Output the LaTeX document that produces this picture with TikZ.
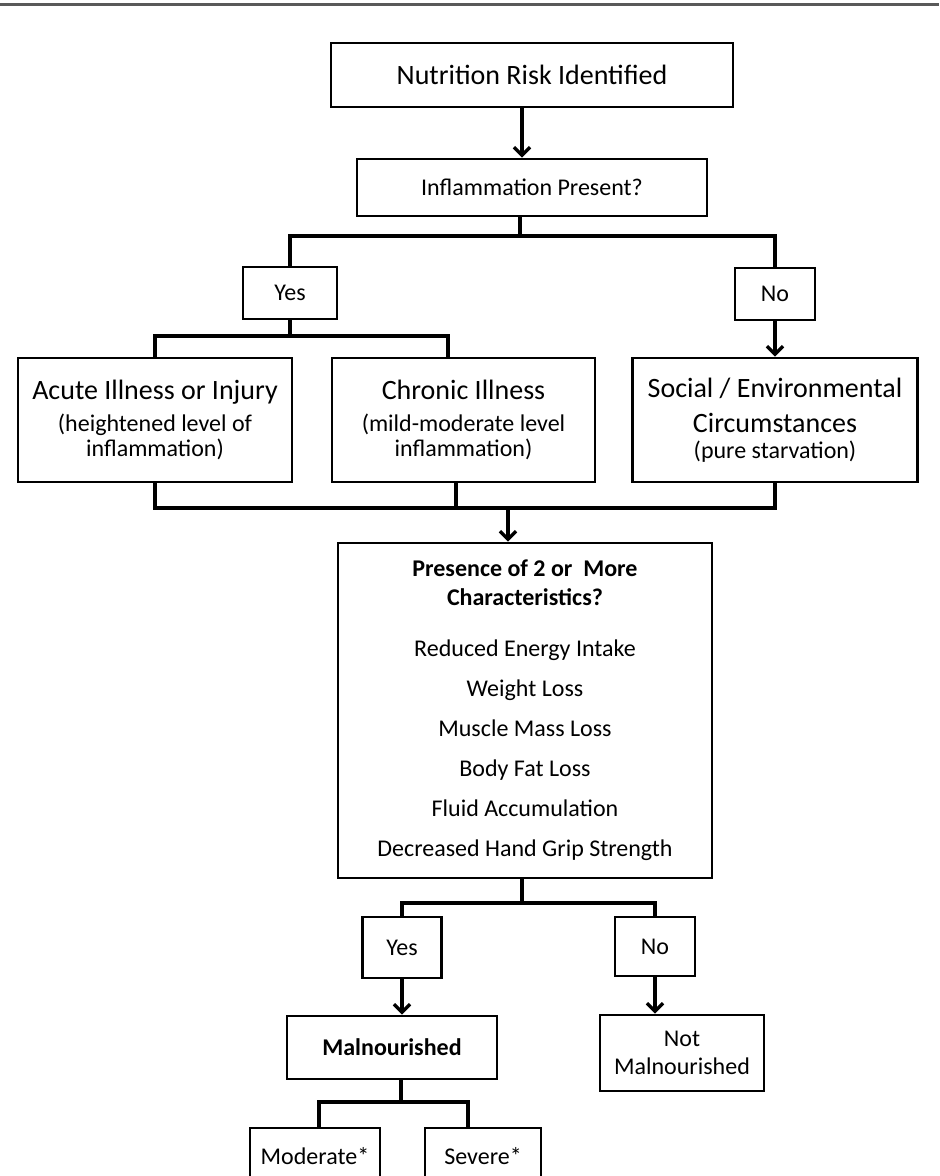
\documentclass[tikz,border=0pt]{standalone}
\usepackage{fontspec}
\setmainfont{Carlito}
\usetikzlibrary{arrows.meta}

\newcommand{\largetxt}[1]{{\fontsize{14}{16}\selectfont #1}}

\begin{document}
\begin{tikzpicture}[x=0.5pt, y=-0.5pt]

% Page frame (pixel grid of the reference)
\useasboundingbox (0,0) rectangle (939,1176);

% Define styles for boxes and connectors
\tikzstyle{box} = [draw, line width=1.4pt, inner sep=0pt, align=center, font=\fontsize{12}{13}\selectfont]
\tikzstyle{conn} = [line width=1.7pt]
\tikzstyle{arr} = [line width=1.7pt, -{Straight Barb[length=4pt,width=8pt]}]

% Top rule
\draw[line width=1.5pt, black!65] (0,5) -- (939,5);

% Boxes
\node[box, minimum width=201pt, minimum height=32pt] (risk) at (532,75) {\largetxt{Nutrition Risk Identified}};
\node[box, minimum width=175pt, minimum height=28.5pt] (inflam) at (532,187.5) {Inflammation Present?};
\node[box, minimum width=47pt, minimum height=26pt] (yes1) at (290,293) {Yes};
\node[box, minimum width=40pt, minimum height=26pt] (no1) at (775,294) {No};
\node[box, minimum width=137pt, minimum height=62pt] (acute) at (155,420)
    {\largetxt{Acute Illness or Injury}\\[3pt] (heightened level of\\[-0.5pt] inflammation)};
\node[box, minimum width=131.5pt, minimum height=62pt] (chronic) at (463.5,420)
    {\largetxt{Chronic Illness}\\[3pt] (mild-moderate level\\[-0.5pt] inflammation)};
\node[box, minimum width=142.5pt, minimum height=62pt] (social) at (775,420)
    {\largetxt{Social / Environmental}\\[4.5pt] \largetxt{Circumstances}\\[0pt] (pure starvation)};
\node[box, minimum width=187pt, minimum height=167.5pt] (presence) at (525,710.5)
    {\textbf{Presence of 2 or~~More}\\[1.5pt] \textbf{Characteristics?}\\[12.5pt]
     Reduced Energy Intake\\[7pt] Weight Loss\\[7pt] Muscle Mass Loss\\[7pt]
     Body Fat Loss\\[7pt] Fluid Accumulation\\[7pt] Decreased Hand Grip Strength};
\node[box, minimum width=39.5pt, minimum height=30.5pt] (yes2) at (402,947.5) {Yes};
\node[box, minimum width=40pt, minimum height=29.5pt] (no2) at (655,946.5) {No};
\node[box, minimum width=105pt, minimum height=31.5pt] (mal) at (392,1047.5) {\textbf{Malnourished}};
\node[box, minimum width=82pt, minimum height=38pt] (notmal) at (682,1053) {Not\\[1pt] Malnourished};
\node[box, minimum width=65pt, minimum height=28pt] (moderate) at (315,1156) {Moderate*};
\node[box, minimum width=58pt, minimum height=28pt] (severe) at (483,1156) {Severe*};

% Branch points
\coordinate (b1) at (520,236);
\coordinate (c2) at (448,336);
\coordinate (m) at (508,508);
\coordinate (c3) at (456,508);
\coordinate (b3) at (522,903);
\coordinate (b4) at (401,1102);
\coordinate (c4) at (319,1102);
\coordinate (c5) at (468,1102);

% Connectors
\draw[arr] ([xshift=-5pt]risk.south) -- ([xshift=-5pt]inflam.north);
\draw[conn] (b1 |- inflam.south) -- (b1);
\draw[conn] (yes1.north) |- (b1) -| (no1.north);
\draw[conn] (yes1.south) -- (yes1.south |- c2);
\draw[conn] (acute.north) |- (c2) -- (c2 |- chronic.north);
\draw[arr] (no1.south) -- (no1.south |- social.north);
\draw[conn] (acute.south) |- (m) -| (social.south);
\draw[conn] (c3 |- chronic.south) -- (c3);
\draw[arr] (m) -- (m |- presence.north);
\draw[conn] (b3 |- presence.south) -- (b3);
\draw[conn] (yes2.north) |- (b3) -| (no2.north);
\draw[arr] (yes2.south) -- (yes2.south |- mal.north);
\draw[arr] (no2.south) -- (no2.south |- notmal.north);
\draw[conn] (b4 |- mal.south) -- (b4);
\draw[conn] (c4 |- moderate.north) -- (c4) -- (c5) -- (c5 |- severe.north);

\end{tikzpicture}
\end{document}
